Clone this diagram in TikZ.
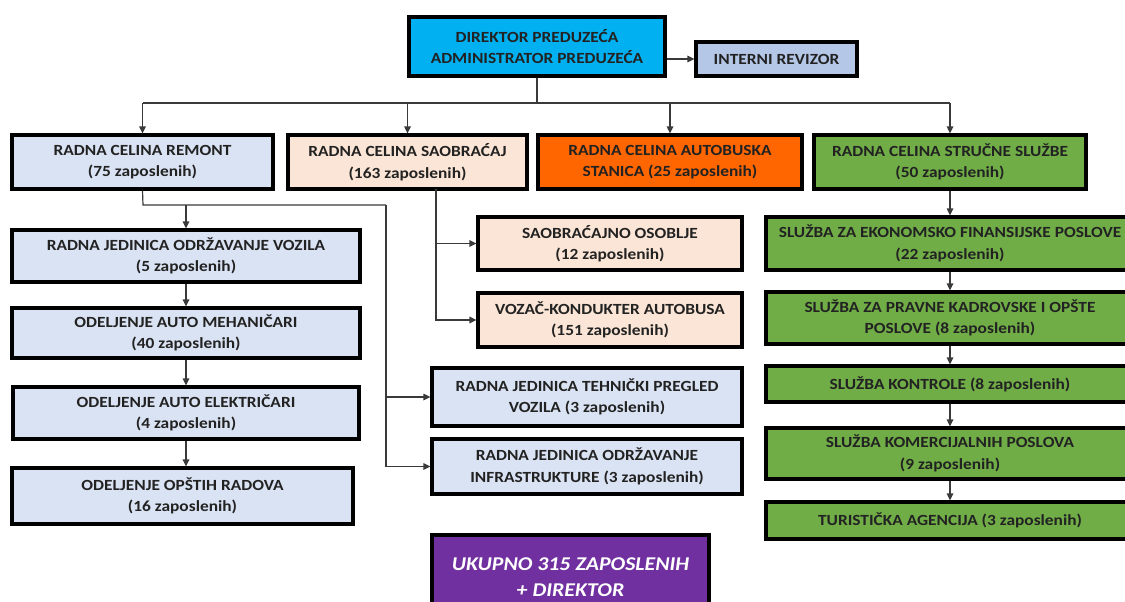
\documentclass[tikz,border=0pt]{standalone}
\usepackage{fontspec}
\setmainfont{Carlito}[FakeStretch=1.12]
\usetikzlibrary{arrows.meta}
\definecolor{dircyan}{HTML}{00B0F0}
\definecolor{revblue}{HTML}{B4C7E7}
\definecolor{remblue}{HTML}{DAE3F3}
\definecolor{saopeach}{HTML}{FBE5D6}
\definecolor{busorange}{HTML}{FF6600}
\definecolor{strgreen}{HTML}{70AD47}
\definecolor{totpurple}{HTML}{7030A0}
\definecolor{txt}{HTML}{222222}
\definecolor{linegray}{HTML}{3A3A3A}

\begin{document}
\begin{tikzpicture}[x=1pt,y=-1pt,
  box/.style={draw=black,line width=3.2pt,inner sep=0pt,align=center,text=txt,
    font=\bfseries\fontsize{15.5}{21.5}\selectfont},
  conn/.style={draw=linegray,line width=1.2pt},
  arr/.style={conn,-{Triangle[length=7pt,width=6.5pt]}}]
\useasboundingbox (0,0) rectangle (1125,602);
\clip (0,0) rectangle (1125,602);

\node[box,fill=dircyan,minimum width=256pt,minimum height=59pt] (dir) at (537,46.5) {DIREKTOR PREDUZEĆA\\ADMINISTRATOR PREDUZEĆA};
\node[box,fill=revblue,minimum width=161pt,minimum height=34pt] (rev) at (776.5,59) {INTERNI REVIZOR};

\node[box,fill=remblue,minimum width=261pt,minimum height=54pt] (remont) at (142.5,162) {RADNA CELINA REMONT\\(75 zaposlenih)};
\node[box,fill=saopeach,minimum width=239pt,minimum height=54pt] (saob) at (407.5,162) {RADNA CELINA SAOBRAĆAJ\\(163 zaposlenih)};
\node[box,fill=busorange,minimum width=264pt,minimum height=54pt] (autob) at (670,162) {RADNA CELINA AUTOBUSKA\\STANICA (25 zaposlenih)};
\node[box,fill=strgreen,minimum width=272pt,minimum height=54pt] (struc) at (950,162) {RADNA CELINA STRUČNE SLUŽBE\\(50 zaposlenih)};

\node[box,fill=remblue,minimum width=348pt,minimum height=52pt] (odrv) at (186,256) {RADNA JEDINICA ODRŽAVANJE VOZILA\\(5 zaposlenih)};
\node[box,fill=remblue,minimum width=348pt,minimum height=50pt] (meh) at (186,333) {ODELJENJE AUTO MEHANIČARI\\(40 zaposlenih)};
\node[box,fill=remblue,minimum width=346pt,minimum height=52pt] (elek) at (186,413) {ODELJENJE AUTO ELEKTRIČARI\\(4 zaposlenih)};
\node[box,fill=remblue,minimum width=341pt,minimum height=56pt] (opst) at (182.5,496) {ODELJENJE OPŠTIH RADOVA\\(16 zaposlenih)};

\node[box,fill=saopeach,minimum width=264pt,minimum height=53pt] (osob) at (610,243.5) {SAOBRAĆAJNO OSOBLJE\\(12 zaposlenih)};
\node[box,fill=saopeach,minimum width=264pt,minimum height=54pt] (vozac) at (610,320) {VOZAČ-KONDUKTER AUTOBUSA\\(151 zaposlenih)};
\node[box,fill=remblue,minimum width=310pt,minimum height=58pt] (tehn) at (587,397) {RADNA JEDINICA TEHNIČKI PREGLED\\VOZILA (3 zaposlenih)};
\node[box,fill=remblue,minimum width=310pt,minimum height=55pt] (infra) at (587,466.5) {RADNA JEDINICA ODRŽAVANJE\\INFRASTRUKTURE (3 zaposlenih)};
\node[box,fill=totpurple,text=white,minimum width=277pt,minimum height=85pt,
  font=\bfseries\itshape\fontsize{19.5}{26}\selectfont] (total) at (570.5,577.5) {UKUPNO 315 ZAPOSLENIH\\+ DIREKTOR};

\node[box,fill=strgreen,minimum width=368pt,minimum height=53pt] (ekon) at (950,243.5) {SLUŽBA ZA EKONOMSKO FINANSIJSKE POSLOVE\\(22 zaposlenih)};
\node[box,fill=strgreen,minimum width=368pt,minimum height=52pt] (pravne) at (950,318) {SLUŽBA ZA PRAVNE KADROVSKE I OPŠTE\\POSLOVE (8 zaposlenih)};
\node[box,fill=strgreen,minimum width=368pt,minimum height=36pt] (kontr) at (950,384) {SLUŽBA KONTROLE (8 zaposlenih)};
\node[box,fill=strgreen,minimum width=368pt,minimum height=51pt] (komer) at (950,453.5) {SLUŽBA KOMERCIJALNIH POSLOVA\\(9 zaposlenih)};
\node[box,fill=strgreen,minimum width=368pt,minimum height=37pt] (turist) at (950,520.5) {TURISTIČKA AGENCIJA (3 zaposlenih)};

\coordinate (bus) at (0,103);
\coordinate (rjoint) at (143,205);
\coordinate (rbus) at (386,205);
\coordinate (sdrop) at (436,189);

\draw[arr] (dir.east |- rev.west) -- (rev.west);
\draw[conn] (dir.south) -- (dir.south |- bus);
\draw[conn] (remont.north |- bus) -- (struc.north |- bus);
\foreach \n in {remont,saob,autob,struc}
  \draw[arr] (\n.north |- bus) -- (\n.north);

\draw[conn] (remont.south) -- (rjoint) -- (rbus);
\draw[arr] (odrv.north |- rjoint) -- (odrv.north);
\draw[arr] (rbus) |- (tehn.west);
\draw[arr] (rbus) |- (infra.west);
\draw[arr] (sdrop) |- (osob.west);
\draw[arr] (sdrop) |- (vozac.west);

\draw[arr] (odrv) -- (meh);
\draw[arr] (meh) -- (elek);
\draw[arr] (elek) -- (opst.north -| elek.south);

\draw[arr] (struc) -- (ekon);
\draw[arr] (ekon) -- (pravne);
\draw[arr] (pravne) -- (kontr);
\draw[arr] (kontr) -- (komer);
\draw[arr] (komer) -- (turist);

\end{tikzpicture}
\end{document}
